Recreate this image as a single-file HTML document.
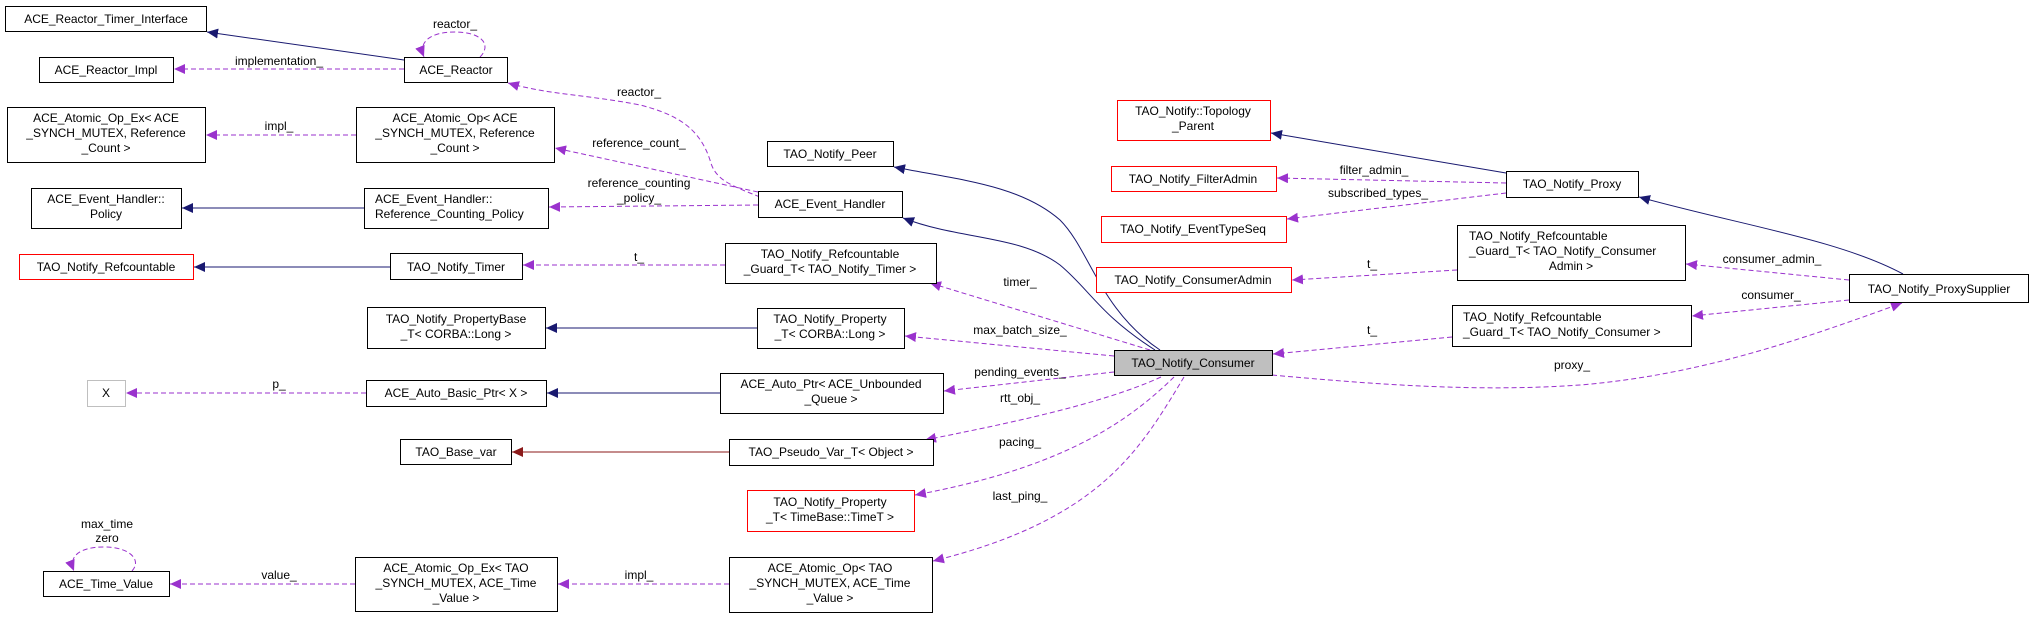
<!DOCTYPE html>
<html><head><meta charset="utf-8"><style>
html,body{margin:0;padding:0;background:#fff;}
svg{display:block;}
text{font-family:"Liberation Sans",Arial,sans-serif;font-size:12px;fill:#000;}
.b{fill:#fff;stroke:#000;stroke-width:1;}
.r{fill:#fff;stroke:#ff0000;stroke-width:1;}
.g{fill:#fff;stroke:#bfbfbf;stroke-width:1;}
.n{fill:none;stroke:#191970;stroke-width:1;}
.p{fill:none;stroke:#9a32cd;stroke-width:1;stroke-dasharray:5,3;}
.d{fill:none;stroke:#8b1a1a;stroke-width:1;}
</style></head><body>
<svg width="2033" height="617" viewBox="0 0 2033 617" xmlns="http://www.w3.org/2000/svg">
<defs>
<marker id="an" markerUnits="userSpaceOnUse" markerWidth="12" markerHeight="10" refX="11" refY="5" orient="auto"><path d="M0,0 L11,5 L0,10 z" fill="#191970"/></marker>
<marker id="ap" markerUnits="userSpaceOnUse" markerWidth="12" markerHeight="10" refX="11" refY="5" orient="auto"><path d="M0,0 L11,5 L0,10 z" fill="#9a32cd"/></marker>
<marker id="ad" markerUnits="userSpaceOnUse" markerWidth="12" markerHeight="10" refX="11" refY="5" orient="auto"><path d="M0,0 L11,5 L0,10 z" fill="#8b1a1a"/></marker>
</defs>

<!-- left edges -->
<path class="n" d="M404,60 L207,32" marker-end="url(#an)"/>
<path class="p" d="M404,69 L174,69" marker-end="url(#ap)"/>
<text x="279" y="65" text-anchor="middle">implementation_</text>
<path class="p" d="M480,57 C492,45 482,32 455,32 C430,32 418,42 424,57" marker-end="url(#ap)"/>
<text x="455" y="28" text-anchor="middle">reactor_</text>
<path class="p" d="M760,197 C730,185 715,180 710,160 C700,130 680,115 640,105 C590,95 550,95 508,83" marker-end="url(#ap)"/>
<text x="639" y="96" text-anchor="middle">reactor_</text>
<path class="p" d="M758,192 L555,148" marker-end="url(#ap)"/>
<text x="639" y="147" text-anchor="middle">reference_count_</text>
<path class="p" d="M758,205 L549,207" marker-end="url(#ap)"/>
<text x="639" y="187" text-anchor="middle">reference_counting</text>
<text x="639" y="202" text-anchor="middle">_policy_</text>
<path class="p" d="M356,135 L206,135" marker-end="url(#ap)"/>
<text x="279" y="130" text-anchor="middle">impl_</text>
<path class="n" d="M364,208 L182,208" marker-end="url(#an)"/>
<path class="n" d="M390,267 L194,267" marker-end="url(#an)"/>
<path class="p" d="M725,265 L523,265" marker-end="url(#ap)"/>
<text x="639" y="261" text-anchor="middle">t_</text>
<path class="n" d="M757,328 L546,328" marker-end="url(#an)"/>
<path class="n" d="M720,393 L547,393" marker-end="url(#an)"/>
<path class="p" d="M366,393 L126,393" marker-end="url(#ap)"/>
<text x="279" y="388" text-anchor="middle">p_</text>
<path class="d" d="M729,452 L512,452" marker-end="url(#ad)"/>
<path class="p" d="M355,584 L170,584" marker-end="url(#ap)"/>
<text x="279" y="579" text-anchor="middle">value_</text>
<path class="p" d="M132,571 C142,560 130,547 104,547 C80,547 68,556 74,571" marker-end="url(#ap)"/>
<text x="107" y="528" text-anchor="middle">max_time</text>
<text x="107" y="542" text-anchor="middle">zero</text>
<path class="p" d="M729,584 L558,584" marker-end="url(#ap)"/>
<text x="639" y="579" text-anchor="middle">impl_</text>

<!-- consumer edges -->
<path class="n" d="M1160,350 C1100,310 1090,250 1060,220 C1020,185 960,180 894,167" marker-end="url(#an)"/>
<path class="n" d="M1155,350 C1100,315 1090,290 1060,265 C1020,235 960,240 903,218" marker-end="url(#an)"/>
<path class="p" d="M1150,350 L930,283" marker-end="url(#ap)"/>
<text x="1020" y="286" text-anchor="middle">timer_</text>
<path class="p" d="M1114,356 L905,336" marker-end="url(#ap)"/>
<text x="1020" y="334" text-anchor="middle">max_batch_size_</text>
<path class="p" d="M1114,372 L944,391" marker-end="url(#ap)"/>
<text x="1020" y="376" text-anchor="middle">pending_events_</text>
<path class="p" d="M1161,377 C1100,405 1000,425 925,440" marker-end="url(#ap)"/>
<text x="1020" y="402" text-anchor="middle">rtt_obj_</text>
<path class="p" d="M1174,377 C1120,430 1050,470 915,495" marker-end="url(#ap)"/>
<text x="1020" y="446" text-anchor="middle">pacing_</text>
<path class="p" d="M1184,377 C1140,450 1100,520 933,561" marker-end="url(#ap)"/>
<text x="1020" y="500" text-anchor="middle">last_ping_</text>

<!-- right edges -->
<path class="n" d="M1506,173 L1271,133" marker-end="url(#an)"/>
<path class="p" d="M1506,183 L1277,178" marker-end="url(#ap)"/>
<text x="1374" y="174" text-anchor="middle">filter_admin_</text>
<path class="p" d="M1506,193 L1287,219" marker-end="url(#ap)"/>
<text x="1378" y="197" text-anchor="middle">subscribed_types_</text>
<path class="p" d="M1457,270 L1292,280" marker-end="url(#ap)"/>
<text x="1372" y="268" text-anchor="middle">t_</text>
<path class="p" d="M1452,337 L1273,354" marker-end="url(#ap)"/>
<text x="1372" y="334" text-anchor="middle">t_</text>
<path class="n" d="M1903,274 C1840,240 1740,225 1639,197" marker-end="url(#an)"/>
<path class="p" d="M1849,280 L1686,264" marker-end="url(#ap)"/>
<text x="1772" y="263" text-anchor="middle">consumer_admin_</text>
<path class="p" d="M1849,300 L1692,316" marker-end="url(#ap)"/>
<text x="1771" y="299" text-anchor="middle">consumer_</text>
<path class="p" d="M1272,375 C1380,385 1480,392 1580,385 C1700,375 1800,340 1902,303" marker-end="url(#ap)"/>
<text x="1572" y="369" text-anchor="middle">proxy_</text>

<!-- left nodes -->
<rect class="b" x="5.5" y="6.5" width="201" height="25"/><text x="106" y="23" text-anchor="middle">ACE_Reactor_Timer_Interface</text>
<rect class="b" x="39.5" y="57.5" width="134" height="25"/><text x="106" y="74" text-anchor="middle">ACE_Reactor_Impl</text>
<rect class="b" x="404.5" y="57.5" width="103" height="25"/><text x="456" y="74" text-anchor="middle">ACE_Reactor</text>
<rect class="b" x="7.5" y="107.5" width="198" height="55"/><text x="106" y="122" text-anchor="middle">ACE_Atomic_Op_Ex&lt; ACE</text><text x="106" y="137" text-anchor="middle">_SYNCH_MUTEX, Reference</text><text x="106" y="152" text-anchor="middle">_Count &gt;</text>
<rect class="b" x="356.5" y="107.5" width="198" height="55"/><text x="455" y="122" text-anchor="middle">ACE_Atomic_Op&lt; ACE</text><text x="455" y="137" text-anchor="middle">_SYNCH_MUTEX, Reference</text><text x="455" y="152" text-anchor="middle">_Count &gt;</text>
<rect class="b" x="31.5" y="188.5" width="150" height="40"/><text x="106" y="203" text-anchor="middle">ACE_Event_Handler::</text><text x="106" y="218" text-anchor="middle">Policy</text>
<rect class="b" x="364.5" y="188.5" width="184" height="40"/><text x="375" y="203">ACE_Event_Handler::</text><text x="375" y="218">Reference_Counting_Policy</text>
<rect class="r" x="19.5" y="254.5" width="174" height="25"/><text x="106" y="271" text-anchor="middle">TAO_Notify_Refcountable</text>
<rect class="b" x="390.5" y="253.5" width="132" height="26"/><text x="456" y="271" text-anchor="middle">TAO_Notify_Timer</text>
<rect class="b" x="367.5" y="307.5" width="178" height="41"/><text x="456" y="323" text-anchor="middle">TAO_Notify_PropertyBase</text><text x="456" y="338" text-anchor="middle">_T&lt; CORBA::Long &gt;</text>
<rect class="g" x="87.5" y="380.5" width="38" height="26"/><text x="106" y="397" text-anchor="middle">X</text>
<rect class="b" x="366.5" y="380.5" width="180" height="26"/><text x="456" y="397" text-anchor="middle">ACE_Auto_Basic_Ptr&lt; X &gt;</text>
<rect class="b" x="400.5" y="439.5" width="111" height="25"/><text x="456" y="456" text-anchor="middle">TAO_Base_var</text>
<rect class="b" x="43.5" y="571.5" width="126" height="25"/><text x="106" y="588" text-anchor="middle">ACE_Time_Value</text>
<rect class="b" x="355.5" y="557.5" width="202" height="54"/><text x="456" y="572" text-anchor="middle">ACE_Atomic_Op_Ex&lt; TAO</text><text x="456" y="587" text-anchor="middle">_SYNCH_MUTEX, ACE_Time</text><text x="456" y="602" text-anchor="middle">_Value &gt;</text>

<!-- middle nodes -->
<rect class="b" x="767.5" y="141.5" width="126" height="25"/><text x="830" y="158" text-anchor="middle">TAO_Notify_Peer</text>
<rect class="b" x="758.5" y="191.5" width="144" height="26"/><text x="830" y="208" text-anchor="middle">ACE_Event_Handler</text>
<rect class="b" x="725.5" y="243.5" width="211" height="40"/><text x="830" y="258" text-anchor="middle">TAO_Notify_Refcountable</text><text x="830" y="273" text-anchor="middle">_Guard_T&lt; TAO_Notify_Timer &gt;</text>
<rect class="b" x="757.5" y="308.5" width="147" height="40"/><text x="830" y="323" text-anchor="middle">TAO_Notify_Property</text><text x="830" y="338" text-anchor="middle">_T&lt; CORBA::Long &gt;</text>
<rect class="b" x="720.5" y="373.5" width="223" height="40"/><text x="831" y="388" text-anchor="middle">ACE_Auto_Ptr&lt; ACE_Unbounded</text><text x="831" y="403" text-anchor="middle">_Queue &gt;</text>
<rect class="b" x="729.5" y="439.5" width="204" height="26"/><text x="831" y="456" text-anchor="middle">TAO_Pseudo_Var_T&lt; Object &gt;</text>
<rect class="r" x="747.5" y="490.5" width="167" height="41"/><text x="830" y="506" text-anchor="middle">TAO_Notify_Property</text><text x="830" y="521" text-anchor="middle">_T&lt; TimeBase::TimeT &gt;</text>
<rect class="b" x="729.5" y="557.5" width="203" height="55"/><text x="830" y="572" text-anchor="middle">ACE_Atomic_Op&lt; TAO</text><text x="830" y="587" text-anchor="middle">_SYNCH_MUTEX, ACE_Time</text><text x="830" y="602" text-anchor="middle">_Value &gt;</text>

<rect x="1114.5" y="350.5" width="158" height="25" fill="#bfbfbf" stroke="#000"/><text x="1193" y="367" text-anchor="middle">TAO_Notify_Consumer</text>
<rect class="r" x="1117.5" y="100.5" width="153" height="40"/><text x="1193" y="115" text-anchor="middle">TAO_Notify::Topology</text><text x="1193" y="130" text-anchor="middle">_Parent</text>
<rect class="r" x="1111.5" y="166.5" width="165" height="25"/><text x="1193" y="183" text-anchor="middle">TAO_Notify_FilterAdmin</text>
<rect class="r" x="1101.5" y="216.5" width="185" height="26"/><text x="1193" y="233" text-anchor="middle">TAO_Notify_EventTypeSeq</text>
<rect class="r" x="1096.5" y="267.5" width="195" height="25"/><text x="1193" y="284" text-anchor="middle">TAO_Notify_ConsumerAdmin</text>

<!-- right nodes -->
<rect class="b" x="1506.5" y="171.5" width="132" height="26"/><text x="1572" y="188" text-anchor="middle">TAO_Notify_Proxy</text>
<rect class="b" x="1457.5" y="225.5" width="228" height="55"/><text x="1469" y="240">TAO_Notify_Refcountable</text><text x="1469" y="255">_Guard_T&lt; TAO_Notify_Consumer</text><text x="1571" y="270" text-anchor="middle">Admin &gt;</text>
<rect class="b" x="1452.5" y="305.5" width="239" height="41"/><text x="1463" y="321">TAO_Notify_Refcountable</text><text x="1463" y="336">_Guard_T&lt; TAO_Notify_Consumer &gt;</text>
<rect class="b" x="1849.5" y="274.5" width="179" height="28"/><text x="1939" y="293" text-anchor="middle">TAO_Notify_ProxySupplier</text>
</svg>
</body></html>
